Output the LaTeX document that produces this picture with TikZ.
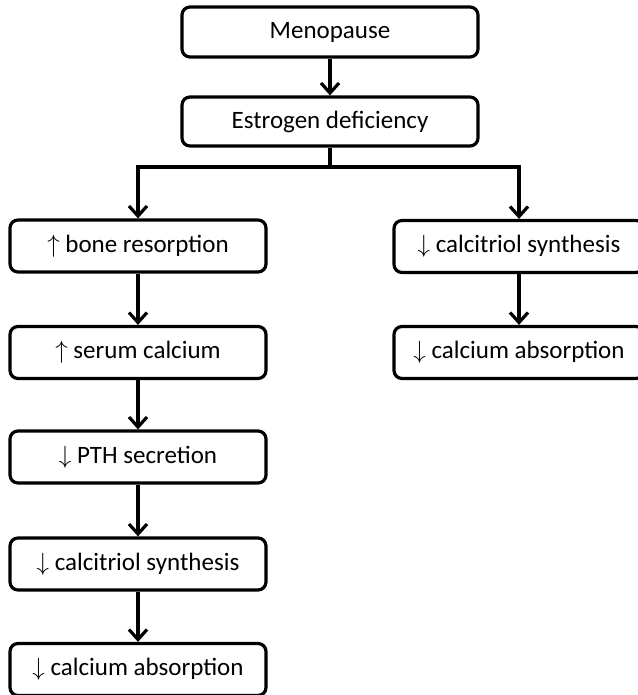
\documentclass[tikz,border=0pt]{standalone}
\usepackage{fontspec}
\setmainfont{Carlito}
\usetikzlibrary{arrows.meta}

\tikzset{
  flowbox/.style={draw,rounded corners=8pt,line width=3.2pt,inner sep=0pt,
    minimum height=52pt,font=\fontsize{25}{29}\selectfont},
  flowarrow/.style={line width=3.2pt,-{Straight Barb[length=10pt,width=18pt,line width=3.2pt]}}
}

\begin{document}
\begin{tikzpicture}[x=1pt,y=-1pt]
\useasboundingbox (0,0) rectangle (637,695);
\node[flowbox,minimum width=296pt,minimum height=50pt] (meno) at (330,32) {Menopause};
\node[flowbox,minimum width=296pt,minimum height=49pt] (estro) at (330,121.5) {Estrogen deficiency};
\coordinate (split) at (330,167);
% left branch
\node[flowbox,minimum width=256pt] (boneres) at (138,246) {$\uparrow$ bone resorption};
\node[flowbox,minimum width=256pt] (serumca) at (138,352.5) {$\uparrow$ serum calcium};
\node[flowbox,minimum width=256pt] (pthsec) at (138,457) {$\downarrow$ PTH secretion};
\node[flowbox,minimum width=256pt] (calcL) at (138,564) {$\downarrow$ calcitriol synthesis};
\node[flowbox,minimum width=256pt] (absL) at (138,669.5) {$\downarrow$ calcium absorption};
% right branch
\node[flowbox,minimum width=250pt] (calcR) at (519,246.5) {$\downarrow$ calcitriol synthesis};
\node[flowbox,minimum width=250pt] (absR) at (519,352.5) {$\downarrow$ calcium absorption};
\draw[flowarrow] (meno) -- (estro);
\draw[line width=3.2pt] (estro.south) -- (split);
\draw[flowarrow] (split) -| (boneres.north);
\draw[flowarrow] (split) -| (calcR.north);
\draw[flowarrow] (boneres) -- (serumca);
\draw[flowarrow] (serumca) -- (pthsec);
\draw[flowarrow] (pthsec) -- (calcL);
\draw[flowarrow] (calcL) -- (absL);
\draw[flowarrow] (calcR) -- (absR);
\end{tikzpicture}
\end{document}
